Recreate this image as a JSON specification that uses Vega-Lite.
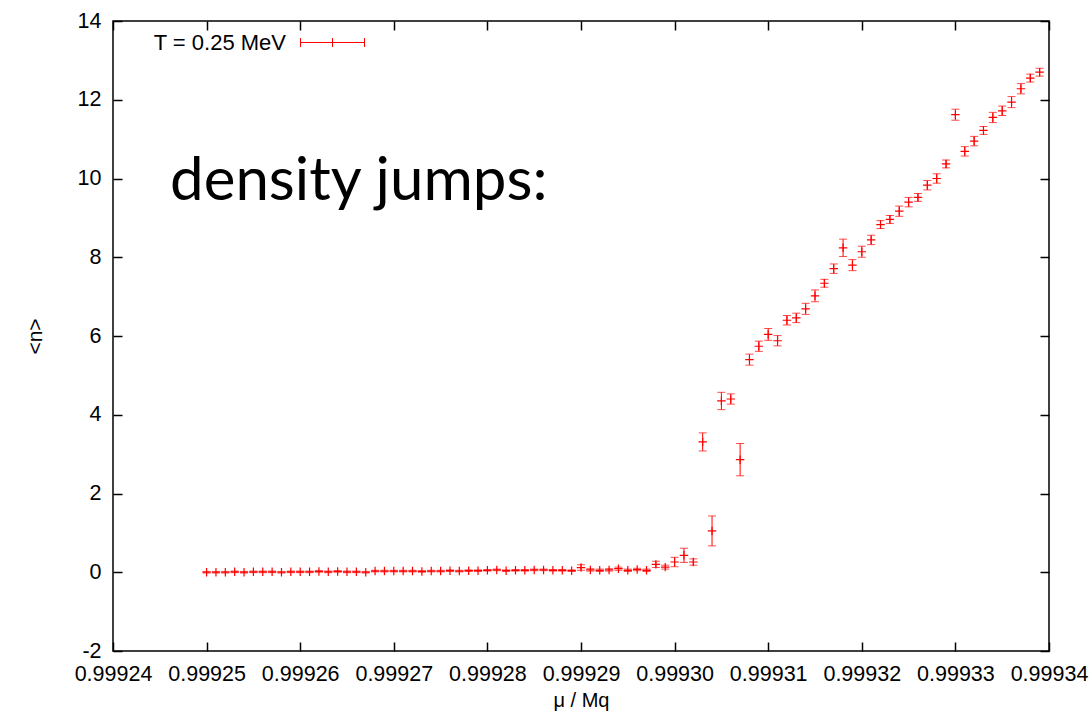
{
  "$schema": "https://vega.github.io/schema/vega-lite/v6.json",
  "width": 936,
  "height": 630,
  "autosize": "none",
  "padding": {"left": 113, "top": 21, "right": 43, "bottom": 72},
  "background": "white",
  "config": {
    "view": {"stroke": "black", "strokeWidth": 1.5},
    "font": "Liberation Sans",
    "axis": {
      "grid": false,
      "domain": false,
      "tickColor": "black",
      "tickWidth": 1.5,
      "tickSize": -9,
      "labelColor": "black",
      "labelFont": "Liberation Sans",
      "labelFontSize": 21.5,
      "titleFont": "Liberation Sans",
      "titleFontWeight": "normal",
      "titleColor": "black"
    }
  },
  "data": {
    "values": [
      {"mu": 0.999250, "n": 0.00, "err": 0.02},
      {"mu": 0.999251, "n": 0.00, "err": 0.02},
      {"mu": 0.999252, "n": 0.00, "err": 0.02},
      {"mu": 0.999253, "n": 0.01, "err": 0.02},
      {"mu": 0.999254, "n": 0.00, "err": 0.02},
      {"mu": 0.999255, "n": 0.01, "err": 0.02},
      {"mu": 0.999256, "n": 0.01, "err": 0.02},
      {"mu": 0.999257, "n": 0.01, "err": 0.02},
      {"mu": 0.999258, "n": 0.00, "err": 0.02},
      {"mu": 0.999259, "n": 0.01, "err": 0.02},
      {"mu": 0.999260, "n": 0.01, "err": 0.02},
      {"mu": 0.999261, "n": 0.01, "err": 0.02},
      {"mu": 0.999262, "n": 0.02, "err": 0.02},
      {"mu": 0.999263, "n": 0.01, "err": 0.02},
      {"mu": 0.999264, "n": 0.02, "err": 0.02},
      {"mu": 0.999265, "n": 0.01, "err": 0.02},
      {"mu": 0.999266, "n": 0.01, "err": 0.02},
      {"mu": 0.999267, "n": 0.00, "err": 0.02},
      {"mu": 0.999268, "n": 0.03, "err": 0.02},
      {"mu": 0.999269, "n": 0.03, "err": 0.02},
      {"mu": 0.999270, "n": 0.03, "err": 0.02},
      {"mu": 0.999271, "n": 0.03, "err": 0.02},
      {"mu": 0.999272, "n": 0.03, "err": 0.02},
      {"mu": 0.999273, "n": 0.02, "err": 0.02},
      {"mu": 0.999274, "n": 0.03, "err": 0.02},
      {"mu": 0.999275, "n": 0.03, "err": 0.02},
      {"mu": 0.999276, "n": 0.04, "err": 0.02},
      {"mu": 0.999277, "n": 0.03, "err": 0.02},
      {"mu": 0.999278, "n": 0.04, "err": 0.02},
      {"mu": 0.999279, "n": 0.04, "err": 0.02},
      {"mu": 0.999280, "n": 0.05, "err": 0.02},
      {"mu": 0.999281, "n": 0.06, "err": 0.02},
      {"mu": 0.999282, "n": 0.04, "err": 0.02},
      {"mu": 0.999283, "n": 0.05, "err": 0.02},
      {"mu": 0.999284, "n": 0.05, "err": 0.02},
      {"mu": 0.999285, "n": 0.06, "err": 0.02},
      {"mu": 0.999286, "n": 0.06, "err": 0.02},
      {"mu": 0.999287, "n": 0.05, "err": 0.02},
      {"mu": 0.999288, "n": 0.05, "err": 0.02},
      {"mu": 0.999289, "n": 0.04, "err": 0.02},
      {"mu": 0.999290, "n": 0.12, "err": 0.07},
      {"mu": 0.999291, "n": 0.06, "err": 0.03},
      {"mu": 0.999292, "n": 0.05, "err": 0.03},
      {"mu": 0.999293, "n": 0.06, "err": 0.03},
      {"mu": 0.999294, "n": 0.09, "err": 0.04},
      {"mu": 0.999295, "n": 0.05, "err": 0.03},
      {"mu": 0.999296, "n": 0.07, "err": 0.03},
      {"mu": 0.999297, "n": 0.05, "err": 0.03},
      {"mu": 0.999298, "n": 0.20, "err": 0.08},
      {"mu": 0.999299, "n": 0.13, "err": 0.05},
      {"mu": 0.999300, "n": 0.26, "err": 0.12},
      {"mu": 0.999301, "n": 0.43, "err": 0.18},
      {"mu": 0.999302, "n": 0.26, "err": 0.08},
      {"mu": 0.999303, "n": 3.31, "err": 0.23},
      {"mu": 0.999304, "n": 1.05, "err": 0.38},
      {"mu": 0.999305, "n": 4.35, "err": 0.22},
      {"mu": 0.999306, "n": 4.40, "err": 0.13},
      {"mu": 0.999307, "n": 2.86, "err": 0.41},
      {"mu": 0.999308, "n": 5.40, "err": 0.14},
      {"mu": 0.999309, "n": 5.74, "err": 0.13},
      {"mu": 0.999310, "n": 6.04, "err": 0.15},
      {"mu": 0.999311, "n": 5.88, "err": 0.13},
      {"mu": 0.999312, "n": 6.40, "err": 0.12},
      {"mu": 0.999313, "n": 6.46, "err": 0.12},
      {"mu": 0.999314, "n": 6.69, "err": 0.14},
      {"mu": 0.999315, "n": 7.02, "err": 0.15},
      {"mu": 0.999316, "n": 7.34, "err": 0.10},
      {"mu": 0.999317, "n": 7.71, "err": 0.12},
      {"mu": 0.999318, "n": 8.24, "err": 0.22},
      {"mu": 0.999319, "n": 7.80, "err": 0.14},
      {"mu": 0.999320, "n": 8.14, "err": 0.14},
      {"mu": 0.999321, "n": 8.44, "err": 0.12},
      {"mu": 0.999322, "n": 8.83, "err": 0.10},
      {"mu": 0.999323, "n": 8.96, "err": 0.10},
      {"mu": 0.999324, "n": 9.17, "err": 0.13},
      {"mu": 0.999325, "n": 9.40, "err": 0.12},
      {"mu": 0.999326, "n": 9.52, "err": 0.10},
      {"mu": 0.999327, "n": 9.83, "err": 0.12},
      {"mu": 0.999328, "n": 10.00, "err": 0.12},
      {"mu": 0.999329, "n": 10.37, "err": 0.10},
      {"mu": 0.999330, "n": 11.62, "err": 0.14},
      {"mu": 0.999331, "n": 10.69, "err": 0.12},
      {"mu": 0.999332, "n": 10.95, "err": 0.12},
      {"mu": 0.999333, "n": 11.22, "err": 0.10},
      {"mu": 0.999334, "n": 11.55, "err": 0.13},
      {"mu": 0.999335, "n": 11.72, "err": 0.12},
      {"mu": 0.999336, "n": 11.94, "err": 0.14},
      {"mu": 0.999337, "n": 12.28, "err": 0.13},
      {"mu": 0.999338, "n": 12.55, "err": 0.10},
      {"mu": 0.999339, "n": 12.70, "err": 0.10}
    ]
  },
  "resolve": {"axis": {"x": "independent", "y": "independent"}},
  "layer": [
    {
      "mark": {
        "type": "errorbar",
        "color": "#ff0000",
        "ticks": {"size": 8, "thickness": 1, "color": "#ff0000"},
        "rule": {"strokeWidth": 1, "color": "#ff0000"}
      },
      "encoding": {
        "x": {
          "field": "mu", "type": "quantitative",
          "scale": {"domain": [0.99924, 0.99934], "nice": false, "zero": false},
          "axis": {
            "orient": "bottom",
            "values": [0.99924, 0.99925, 0.99926, 0.99927, 0.99928, 0.99929, 0.99930, 0.99931, 0.99932, 0.99933, 0.99934],
            "format": ".5f",
            "labelPadding": 21,
            "labelFlush": false,
            "labelOverlap": false,
            "title": "μ / Mq",
            "titleFontSize": 20,
            "titleBaseline": "alphabetic",
            "titleY": 55
          }
        },
        "y": {
          "field": "n", "type": "quantitative",
          "scale": {"domain": [-2, 14], "nice": false, "zero": false},
          "axis": {
            "orient": "left",
            "values": [-2, 0, 2, 4, 6, 8, 10, 12, 14],
            "labelExpr": "datum.value < 0 ? '-' + abs(datum.value) : '' + datum.value",
            "labelPadding": 21,
            "labelFlush": false,
            "labelOverlap": false,
            "title": "<n>",
            "titleFontSize": 21,
            "titleAngle": -90,
            "titleBaseline": "middle",
            "titleX": -78,
            "titleY": 315
          }
        },
        "yError": {"field": "err"}
      }
    },
    {
      "mark": {"type": "point", "shape": "M-1,0H1M0,-1V1", "size": 72, "filled": false, "strokeWidth": 1.2, "opacity": 1},
      "encoding": {
        "x": {
          "field": "mu", "type": "quantitative",
          "scale": {"domain": [0.99924, 0.99934], "nice": false, "zero": false},
          "axis": {"orient": "top", "values": [0.99924, 0.99925, 0.99926, 0.99927, 0.99928, 0.99929, 0.99930, 0.99931, 0.99932, 0.99933, 0.99934], "labels": false, "title": null}
        },
        "y": {
          "field": "n", "type": "quantitative",
          "scale": {"domain": [-2, 14], "nice": false, "zero": false},
          "axis": {"orient": "right", "values": [-2, 0, 2, 4, 6, 8, 10, 12, 14], "labels": false, "title": null}
        },
        "color": {
          "datum": "T = 0.25 MeV",
          "type": "nominal",
          "scale": {"range": ["#ff0000"]},
          "legend": {
            "title": null,
            "orient": "none",
            "legendX": 187,
            "legendY": -11,
            "padding": 0,
            "symbolType": "M-1,0H1M-1,-0.14V0.14M1,-0.14V0.14M0,-0.14V0.14",
            "symbolSize": 4096,
            "symbolStrokeWidth": 1,
            "symbolStrokeColor": "#ff0000",
            "symbolFillColor": "transparent",
            "labelFont": "Liberation Sans",
            "labelFontSize": 22,
            "labelColor": "black",
            "labelAlign": "right",
            "labelOffset": -79,
            "labelLimit": 400
          }
        }
      }
    },
    {
      "data": {"values": [{"mu": 0.9992461, "n": 9.45, "label": "density jumps:"}]},
      "mark": {"type": "text", "font": "Lato", "fontSize": 60, "align": "left", "baseline": "alphabetic", "color": "black"},
      "encoding": {
        "x": {"field": "mu", "type": "quantitative", "axis": null},
        "y": {"field": "n", "type": "quantitative", "axis": null},
        "text": {"field": "label"}
      }
    }
  ]
}
